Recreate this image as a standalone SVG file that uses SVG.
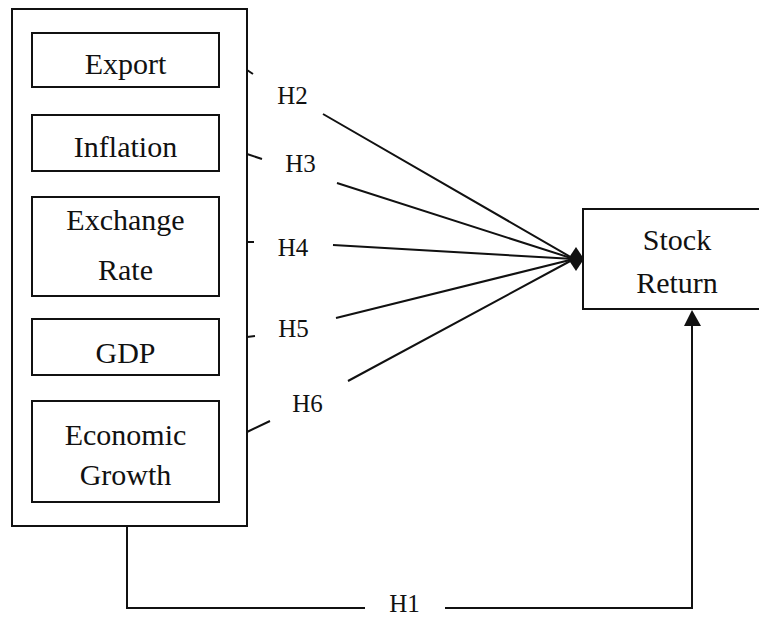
<svg xmlns="http://www.w3.org/2000/svg" width="759" height="617" viewBox="0 0 759 617">
<defs>
<style>
.box{fill:#fff;stroke:#111;stroke-width:2}
.t{font-size:30px;fill:#111;text-anchor:middle}
.h{font-size:25px;fill:#111;text-anchor:middle}
.c{fill:none;stroke:#111;stroke-width:2}
</style>
</defs>
<rect width="759" height="617" fill="#fff"/>
<g font-family="'Liberation Serif', 'DejaVu Serif', 'Times New Roman', serif">
<g id="group">
<rect class="box" x="12" y="9" width="235" height="517"/>
</g>
<g id="export"><rect class="box" x="32" y="33" width="187" height="54"/><text class="t" x="125.5" y="74">Export</text></g>
<g id="inflation"><rect class="box" x="32" y="115" width="187" height="56"/><text class="t" x="125.5" y="157">Inflation</text></g>
<g id="exchange-rate"><rect class="box" x="32" y="197" width="187" height="99"/><text class="t" x="125.5" y="230">Exchange</text><text class="t" x="125.5" y="280">Rate</text></g>
<g id="gdp"><rect class="box" x="32" y="319" width="187" height="56"/><text class="t" x="125.5" y="363">GDP</text></g>
<g id="economic-growth"><rect class="box" x="32" y="401" width="187" height="101"/><text class="t" x="125.5" y="445">Economic</text><text class="t" x="125.5" y="485">Growth</text></g>
<g id="stock-return"><rect class="box" x="583" y="209" width="190" height="100"/><text class="t" x="677" y="250">Stock</text><text class="t" x="677" y="293">Return</text></g>
<g id="connectors">
<path class="c" d="M247,70 L253,74 M323,114 L574,259"/>
<path class="c" d="M247,154 L262,159 M337,183 L574,259"/>
<path class="c" d="M247,242 L254,242 M333,245 L574,259"/>
<path class="c" d="M247,337 L255,336 M336,318 L574,259"/>
<path class="c" d="M247,432 L270,421 M348,381 L574,259"/>
<path d="M584,259 L576,247 L568,259 L576,271 Z" fill="#111"/>
<path class="c" d="M127,526 L127,608 L365,608 M445,608 L692,608 L692,322"/>
<path d="M692,310 L684,326 L701,326 Z" fill="#111"/>
<text class="h" x="292.5" y="104">H2</text>
<text class="h" x="300.5" y="172">H3</text>
<text class="h" x="293" y="256">H4</text>
<text class="h" x="293.5" y="337">H5</text>
<text class="h" x="307.5" y="412">H6</text>
<text class="h" x="404.5" y="612">H1</text>
</g>
</g>
</svg>
